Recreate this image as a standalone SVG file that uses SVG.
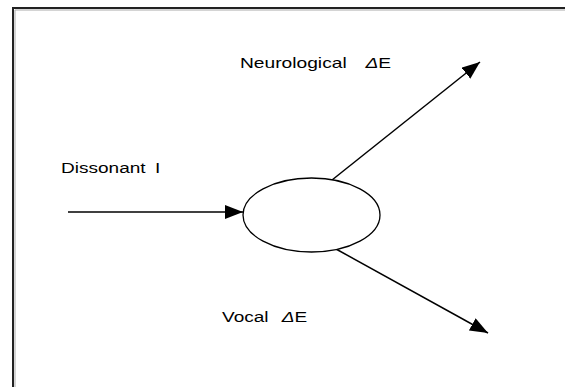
<svg xmlns="http://www.w3.org/2000/svg" width="565" height="387" viewBox="0 0 565 387">
  <style>
    .lbl { font-family: "Liberation Sans", Arial, sans-serif; font-size: 15px; fill: #000; }
    .sym { font-style: italic; }
    .edge { stroke: #000; stroke-width: 1.5; fill: none; }
  </style>
  <defs>
    <marker id="arrow" viewBox="0 0 18 14" refX="18" refY="7" markerWidth="18" markerHeight="14" markerUnits="userSpaceOnUse" orient="auto">
      <path d="M0,0 L18,7 L0,14 z" fill="#000"/>
    </marker>
  </defs>
  <rect width="565" height="387" fill="#fff"/>
  <!-- frame -->
  <path d="M13,387 V8 H565" stroke="#222" stroke-width="2" fill="none"/>
  <path d="M15,387 V10 H565" stroke="#aaa" stroke-width="1" fill="none"/>

  <g id="connectors">
    <line class="edge" x1="68" y1="212" x2="243" y2="212" marker-end="url(#arrow)"/>
    <line class="edge" x1="332" y1="180" x2="480" y2="62" marker-end="url(#arrow)"/>
    <line class="edge" x1="336" y1="249" x2="488" y2="333" marker-end="url(#arrow)"/>
  </g>

  <g id="node-center">
    <ellipse cx="311.5" cy="215" rx="68.5" ry="37" fill="#fff" stroke="#000" stroke-width="1.3"/>
  </g>
  <g id="label-input">
    <text class="lbl" transform="translate(61,173) scale(1.27,1)"><tspan x="0">Dissonant</tspan><tspan x="74">I</tspan></text>
  </g>
  <g id="label-neuro">
    <text class="lbl" transform="translate(240,68) scale(1.28,1)"><tspan x="0">Neurological</tspan><tspan class="sym" x="98">Δ</tspan>E</text>
  </g>
  <g id="label-vocal">
    <text class="lbl" transform="translate(222,322) scale(1.27,1)"><tspan x="0">Vocal</tspan><tspan class="sym" x="47">Δ</tspan>E</text>
  </g>
</svg>
